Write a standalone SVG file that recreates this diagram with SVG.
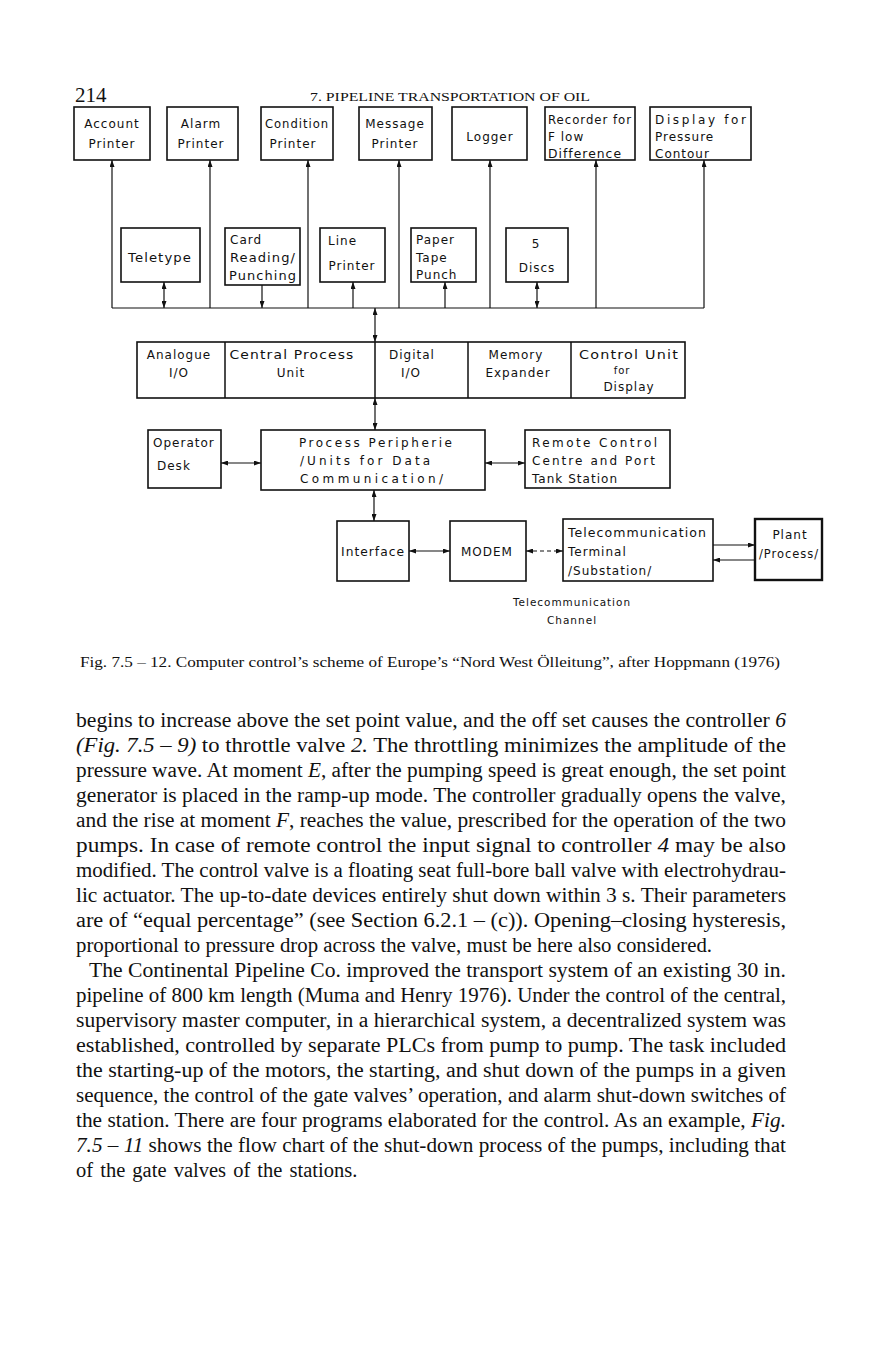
<svg xmlns="http://www.w3.org/2000/svg" width="870" height="1354" viewBox="0 0 870 1354">
<style>
.bx{fill:#fff;stroke:#111;stroke-width:1.6}
.bx2{fill:#fff;stroke:#111;stroke-width:2.4}
.t{font-family:"DejaVu Sans",sans-serif;font-size:12px;letter-spacing:1px;fill:#111}
.c{text-anchor:middle}
.ln{fill:none;stroke:#111;stroke-width:1.2}
.dash{stroke-dasharray:4 3}
.body{font-family:"Liberation Serif",serif;font-size:20.5px;fill:#111}
.i{font-style:italic}
</style>
<defs>
<marker id="ah" viewBox="0 0 7 5" refX="7" refY="2.5" markerWidth="7" markerHeight="5" markerUnits="userSpaceOnUse" orient="auto-start-reverse">
<path d="M0 0 L7 2.5 L0 5 z" fill="#111"/>
</marker>
</defs>
<rect width="870" height="1354" fill="#fff"/>
<text x="75" y="102" style="font-family:'Liberation Serif',serif;font-size:21px;fill:#111">214</text>
<text x="310" y="101" textLength="280" lengthAdjust="spacingAndGlyphs" style="font-family:'Liberation Serif',serif;font-size:13.5px;fill:#111">7. PIPELINE TRANSPORTATION OF OIL</text>

<g id="connectors">
<path class="ln" d="M112 308 H704"/>
<path class="ln" d="M112 308 V160" marker-end="url(#ah)"/>
<path class="ln" d="M210 308 V160" marker-end="url(#ah)"/>
<path class="ln" d="M308 308 V160" marker-end="url(#ah)"/>
<path class="ln" d="M399 308 V160" marker-end="url(#ah)"/>
<path class="ln" d="M490 308 V160" marker-end="url(#ah)"/>
<path class="ln" d="M596 308 V160" marker-end="url(#ah)"/>
<path class="ln" d="M704 308 V160" marker-end="url(#ah)"/>
<path class="ln" d="M164 282 V308" marker-start="url(#ah)" marker-end="url(#ah)"/>
<path class="ln" d="M262 285 V308" marker-end="url(#ah)"/>
<path class="ln" d="M353 308 V282" marker-end="url(#ah)"/>
<path class="ln" d="M445 308 V282" marker-end="url(#ah)"/>
<path class="ln" d="M537 282 V308" marker-start="url(#ah)" marker-end="url(#ah)"/>
<path class="ln" d="M375 308 V342" marker-start="url(#ah)" marker-end="url(#ah)"/>
<path class="ln" d="M375 398 V430" marker-start="url(#ah)" marker-end="url(#ah)"/>
<path class="ln" d="M374 490 V521" marker-start="url(#ah)" marker-end="url(#ah)"/>
<path class="ln" d="M221 463 H261" marker-start="url(#ah)" marker-end="url(#ah)"/>
<path class="ln" d="M485 463 H525" marker-start="url(#ah)" marker-end="url(#ah)"/>
<path class="ln" d="M409 551 H450" marker-start="url(#ah)" marker-end="url(#ah)"/>
<path class="ln dash" d="M526 551 H563" marker-start="url(#ah)" marker-end="url(#ah)"/>
<path class="ln" d="M713 545 H755" marker-end="url(#ah)"/>
<path class="ln" d="M755 560 H713" marker-end="url(#ah)"/>
</g>

<g id="account-printer"><rect class="bx" x="74" y="107" width="76" height="53"/>
<text class="t c" x="112" y="128">Account</text><text class="t c" x="112" y="148">Printer</text></g>
<g id="alarm-printer"><rect class="bx" x="167" y="107" width="71" height="53"/>
<text class="t c" x="201" y="128">Alarm</text><text class="t c" x="201" y="148">Printer</text></g>
<g id="condition-printer"><rect class="bx" x="261" y="107" width="72" height="53"/>
<text class="t c" x="297" y="128" textLength="64" lengthAdjust="spacingAndGlyphs">Condition</text><text class="t c" x="293" y="148">Printer</text></g>
<g id="message-printer"><rect class="bx" x="359" y="107" width="73" height="53"/>
<text class="t c" x="395" y="128">Message</text><text class="t c" x="395" y="148">Printer</text></g>
<g id="logger"><rect class="bx" x="452" y="107" width="75" height="53"/>
<text class="t c" x="490" y="141">Logger</text></g>
<g id="recorder"><rect class="bx" x="545" y="107" width="90" height="53"/>
<text class="t" x="548" y="124" textLength="84" lengthAdjust="spacingAndGlyphs">Recorder for</text><text class="t" x="548" y="141">F low</text><text class="t" x="548" y="158" textLength="74" lengthAdjust="spacingAndGlyphs">Difference</text></g>
<g id="display"><rect class="bx" x="650" y="107" width="101" height="53"/>
<text class="t" x="655" y="124" textLength="92" lengthAdjust="spacing">Display for</text><text class="t" x="655" y="141">Pressure</text><text class="t" x="655" y="158">Contour</text></g>

<g id="teletype"><rect class="bx" x="121" y="228" width="79" height="54"/>
<text class="t c" x="160" y="262" textLength="64" lengthAdjust="spacingAndGlyphs">Teletype</text></g>
<g id="card-reading"><rect class="bx" x="225" y="228" width="75" height="57"/>
<text class="t" x="230" y="244">Card</text><text class="t" x="230" y="262" textLength="66" lengthAdjust="spacingAndGlyphs">Reading/</text><text class="t" x="229" y="280" textLength="68" lengthAdjust="spacingAndGlyphs">Punching</text></g>
<g id="line-printer"><rect class="bx" x="320" y="228" width="65" height="54"/>
<text class="t" x="328" y="245">Line</text><text class="t c" x="352" y="270">Printer</text></g>
<g id="paper-tape"><rect class="bx" x="411" y="228" width="65" height="54"/>
<text class="t" x="416" y="244">Paper</text><text class="t" x="416" y="262">Tape</text><text class="t" x="416" y="279">Punch</text></g>
<g id="discs"><rect class="bx" x="506" y="228" width="62" height="54"/>
<text class="t c" x="536" y="248">5</text><text class="t c" x="537" y="272">Discs</text></g>

<g id="computer"><rect class="bx" x="137" y="342" width="548" height="56"/>
<path class="ln" style="stroke-width:1.5" d="M225 342 V398 M375 342 V398 M468 342 V398 M571 342 V398"/>
<text class="t c" x="179" y="359">Analogue</text><text class="t c" x="179" y="377">I/O</text>
<text class="t c" x="292" y="359" textLength="125" lengthAdjust="spacingAndGlyphs">Central Process</text><text class="t c" x="291" y="377">Unit</text>
<text class="t c" x="412" y="359">Digital</text><text class="t c" x="411" y="377">I/O</text>
<text class="t c" x="516" y="359">Memory</text><text class="t c" x="518" y="377">Expander</text>
<text class="t c" x="629" y="359" textLength="100" lengthAdjust="spacingAndGlyphs">Control Unit</text><text class="t c" x="622" y="374" style="font-size:10px">for</text><text class="t c" x="629" y="391">Display</text></g>

<g id="operator-desk"><rect class="bx" x="148" y="430" width="73" height="58"/>
<text class="t" x="153" y="447">Operator</text><text class="t" x="157" y="470">Desk</text></g>
<g id="process-peripherie"><rect class="bx" x="261" y="430" width="224" height="60"/>
<text class="t" x="299" y="447" textLength="154" lengthAdjust="spacing">Process  Peripherie</text><text class="t" x="300" y="465" textLength="131" lengthAdjust="spacing">/Units for Data</text><text class="t" x="300" y="483" textLength="144" lengthAdjust="spacing">Communication/</text></g>
<g id="remote-control"><rect class="bx" x="525" y="430" width="145" height="58"/>
<text class="t" x="532" y="447" textLength="126" lengthAdjust="spacing">Remote  Control</text><text class="t" x="532" y="465" textLength="124" lengthAdjust="spacing">Centre and  Port</text><text class="t" x="532" y="483" textLength="86" lengthAdjust="spacing">Tank  Station</text></g>

<g id="interface"><rect class="bx" x="337" y="521" width="72" height="60"/>
<text class="t c" x="373" y="556" textLength="64" lengthAdjust="spacingAndGlyphs">Interface</text></g>
<g id="modem"><rect class="bx" x="450" y="521" width="76" height="60"/>
<text class="t c" x="487" y="556">MODEM</text></g>
<g id="telecom-terminal"><rect class="bx" x="563" y="519" width="150" height="62"/>
<text class="t" x="568" y="537" textLength="139" lengthAdjust="spacingAndGlyphs">Telecommunication</text><text class="t" x="568" y="556">Terminal</text><text class="t" x="568" y="575">/Substation/</text></g>
<g id="plant"><rect class="bx2" x="755" y="519" width="67" height="61"/>
<text class="t c" x="790" y="539">Plant</text><text class="t c" x="789" y="558" textLength="60" lengthAdjust="spacingAndGlyphs">/Process/</text></g>
<g id="channel-label">
<text class="t c" x="572" y="606" style="font-size:10.5px" textLength="118" lengthAdjust="spacingAndGlyphs">Telecommunication</text><text class="t c" x="572" y="624" style="font-size:10.5px">Channel</text></g>

<text x="80" y="667" textLength="700" lengthAdjust="spacingAndGlyphs" style="font-family:'Liberation Serif',serif;font-size:15px;fill:#111">Fig. 7.5 – 12. Computer control’s scheme of Europe’s “Nord West Ölleitung”, after Hoppmann (1976)</text>

<g class="body">
<text x="76" y="727" textLength="710" lengthAdjust="spacingAndGlyphs">begins to increase above the set point value, and the off set causes the controller <tspan class="i">6</tspan></text>
<text x="76" y="752" textLength="710" lengthAdjust="spacingAndGlyphs"><tspan class="i">(Fig. 7.5 – 9)</tspan> to throttle valve <tspan class="i">2.</tspan> The throttling minimizes the amplitude of the</text>
<text x="76" y="777" textLength="710" lengthAdjust="spacingAndGlyphs">pressure wave. At moment <tspan class="i">E</tspan>, after the pumping speed is great enough, the set point</text>
<text x="76" y="802" textLength="710" lengthAdjust="spacingAndGlyphs">generator is placed in the ramp-up mode. The controller gradually opens the valve,</text>
<text x="76" y="827" textLength="710" lengthAdjust="spacingAndGlyphs">and the rise at moment <tspan class="i">F</tspan>, reaches the value, prescribed for the operation of the two</text>
<text x="76" y="852" textLength="710" lengthAdjust="spacingAndGlyphs">pumps. In case of remote control the input signal to controller <tspan class="i">4</tspan> may be also</text>
<text x="76" y="877" textLength="710" lengthAdjust="spacingAndGlyphs">modified. The control valve is a floating seat full-bore ball valve with electrohydrau-</text>
<text x="76" y="902" textLength="710" lengthAdjust="spacingAndGlyphs">lic actuator. The up-to-date devices entirely shut down within 3 s. Their parameters</text>
<text x="76" y="927" textLength="710" lengthAdjust="spacingAndGlyphs">are of “equal percentage” (see Section 6.2.1 – (c)). Opening–closing hysteresis,</text>
<text x="76" y="952" textLength="636" lengthAdjust="spacingAndGlyphs">proportional to pressure drop across the valve, must be here also considered.</text>
<text x="89" y="977" textLength="697" lengthAdjust="spacingAndGlyphs">The Continental Pipeline Co. improved the transport system of an existing 30 in.</text>
<text x="76" y="1002" textLength="710" lengthAdjust="spacingAndGlyphs">pipeline of 800 km length (Muma and Henry 1976). Under the control of the central,</text>
<text x="76" y="1027" textLength="710" lengthAdjust="spacingAndGlyphs">supervisory master computer, in a hierarchical system, a decentralized system was</text>
<text x="76" y="1052" textLength="710" lengthAdjust="spacingAndGlyphs">established, controlled by separate PLCs from pump to pump. The task included</text>
<text x="76" y="1077" textLength="710" lengthAdjust="spacingAndGlyphs">the starting-up of the motors, the starting, and shut down of the pumps in a given</text>
<text x="76" y="1102" textLength="710" lengthAdjust="spacingAndGlyphs">sequence, the control of the gate valves’ operation, and alarm shut-down switches of</text>
<text x="76" y="1127" textLength="710" lengthAdjust="spacingAndGlyphs">the station. There are four programs elaborated for the control. As an example, <tspan class="i">Fig.</tspan></text>
<text x="76" y="1152" textLength="710" lengthAdjust="spacingAndGlyphs"><tspan class="i">7.5 – 11</tspan> shows the flow chart of the shut-down process of the pumps, including that</text>
<text x="76" y="1177" word-spacing="2">of the gate valves of the stations.</text>
</g>
</svg>
